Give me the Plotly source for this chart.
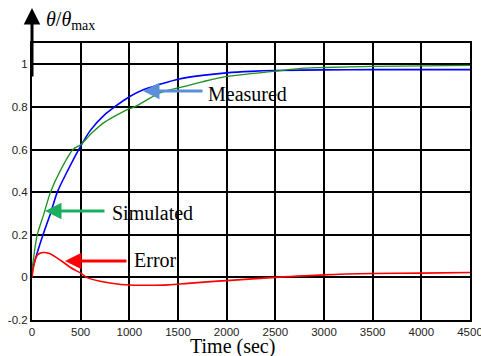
import plotly.graph_objects as go

# ---- data ----
t_meas = [0, 50, 113, 190, 260, 365, 480, 600, 750, 848, 1000, 1150, 1314, 1500, 1750, 2000, 2250, 2500, 3000, 3500, 4000, 4500]
measured = [0.03, 0.11, 0.2, 0.3, 0.4, 0.5, 0.6, 0.69, 0.765, 0.8, 0.848, 0.882, 0.906, 0.93, 0.948, 0.96, 0.967, 0.971, 0.974, 0.975, 0.975, 0.975]

t_sim = [0, 25, 54, 123, 190, 290, 421, 500, 620, 750, 1000, 1054, 1314, 1500, 1750, 2000, 2500, 2800, 3000, 3500, 4000, 4500]
simulated = [0.035, 0.12, 0.2, 0.3, 0.4, 0.5, 0.6, 0.623, 0.68, 0.73, 0.792, 0.8, 0.866, 0.889, 0.918, 0.943, 0.968, 0.982, 0.985, 0.99, 0.993, 0.995]

t_err = [0, 20, 44, 80, 120, 180, 300, 400, 500, 560, 700, 800, 1000, 1200, 1400, 1600, 1800, 2000, 2300, 2500, 3000, 3500, 4000, 4500]
error = [0.0, 0.06, 0.097, 0.113, 0.117, 0.112, 0.078, 0.045, 0.02, 0.0, -0.018, -0.026, -0.036, -0.037, -0.035, -0.028, -0.021, -0.015, -0.006, 0.0, 0.012, 0.018, 0.02, 0.023]

x_ticks = [0, 500, 1000, 1500, 2000, 2500, 3000, 3500, 4000, 4500]
y_ticks = [-0.2, 0, 0.2, 0.4, 0.6, 0.8, 1]
y_tick_labels = ["-0.2", "0", "0.2", "0.4", "0.6", "0.8", "1"]

# ---- layout geometry (pixels) ----
W, H = 481, 356
ML, MR, MT, MB = 32, 11, 43, 36
PW, PH = W - ML - MR, H - MT - MB


def px(x):
    return (x - ML) / PW


def py(y):
    return (H - MB - y) / PH


SERIF = "Liberation Serif, Times New Roman, serif"
SANS = "Liberation Sans, Arial, sans-serif"

fig = go.Figure()
fig.add_trace(go.Scatter(x=t_meas, y=measured, mode="lines", line=dict(color="#0000ff", width=1.6, shape="spline", smoothing=0.8), name="Measured"))
fig.add_trace(go.Scatter(x=t_sim, y=simulated, mode="lines", line=dict(color="#1f8f1f", width=1.3, shape="spline", smoothing=0.8), name="Simulated"))
fig.add_trace(go.Scatter(x=t_err, y=error, mode="lines", line=dict(color="#ff0000", width=1.6, shape="spline", smoothing=0.8), name="Error"))

ann = []
# y axis arrow
ann.append(dict(xref="paper", yref="paper", x=0, y=py(8), ax=0, ay=70, axref="pixel", ayref="pixel",
                text="", showarrow=True, arrowhead=2, arrowsize=1.1, arrowwidth=3, arrowcolor="black"))
# axis label theta/theta_max
ann.append(dict(xref="paper", yref="paper", x=px(44), y=py(21), xanchor="left", yanchor="middle",
                text="<i>θ</i>/<i>θ</i><sub>max</sub>", showarrow=False, font=dict(family=SERIF, size=20, color="black")))
# x title
ann.append(dict(xref="paper", yref="paper", x=px(232), y=py(346), xanchor="center", yanchor="middle",
                text="Time (sec)", showarrow=False, font=dict(family=SERIF, size=20, color="black")))

# pointer labels
labels = [
    ("Measured", 206, 94, 143, 91, 204, "#5b8fd8"),
    ("Simulated", 110, 213, 45, 211, 106, "#1aaf5d"),
    ("Error", 132, 260, 65, 261, 128, "#ff0000"),
]
for text, tx, ty, hx, hy, tailx, col in labels:
    ann.append(dict(xref="paper", yref="paper", x=px(tx), y=py(ty), xanchor="left", yanchor="middle",
                    text=text, showarrow=False, font=dict(family=SERIF, size=20, color="black")))
    ann.append(dict(xref="paper", yref="paper", x=px(hx), y=py(hy), ax=tailx - hx, ay=0,
                    axref="pixel", ayref="pixel", text="", showarrow=True,
                    arrowhead=2, arrowsize=1.1, arrowwidth=3, arrowcolor=col))

fig.update_layout(
    width=W, height=H,
    margin=dict(l=ML, r=MR, t=MT, b=MB, pad=0, autoexpand=False),
    paper_bgcolor="white", plot_bgcolor="white",
    showlegend=False,
    annotations=ann,
    xaxis=dict(range=[0, 4500], tickvals=x_ticks, ticktext=[str(v) for v in x_ticks],
               showgrid=True, gridcolor="black", gridwidth=1.6, zeroline=False,
               showline=True, linecolor="black", linewidth=2, mirror=True, automargin=False,
               ticks="", ticklabeloverflow="allow",
               tickfont=dict(family=SANS, size=11.5, color="#222")),
    yaxis=dict(range=[-0.2, 1.1], tickvals=y_ticks, ticktext=y_tick_labels,
               showgrid=True, gridcolor="black", gridwidth=1.6, zeroline=False,
               showline=True, linecolor="black", linewidth=2, mirror=True, automargin=False,
               ticks="", ticklabeloverflow="allow",
               tickfont=dict(family=SANS, size=11.5, color="#222")),
)

fig.write_html("out.html", config={"displayModeBar": False},
               post_script="document.body.style.margin='0';document.body.style.overflow='hidden';")
